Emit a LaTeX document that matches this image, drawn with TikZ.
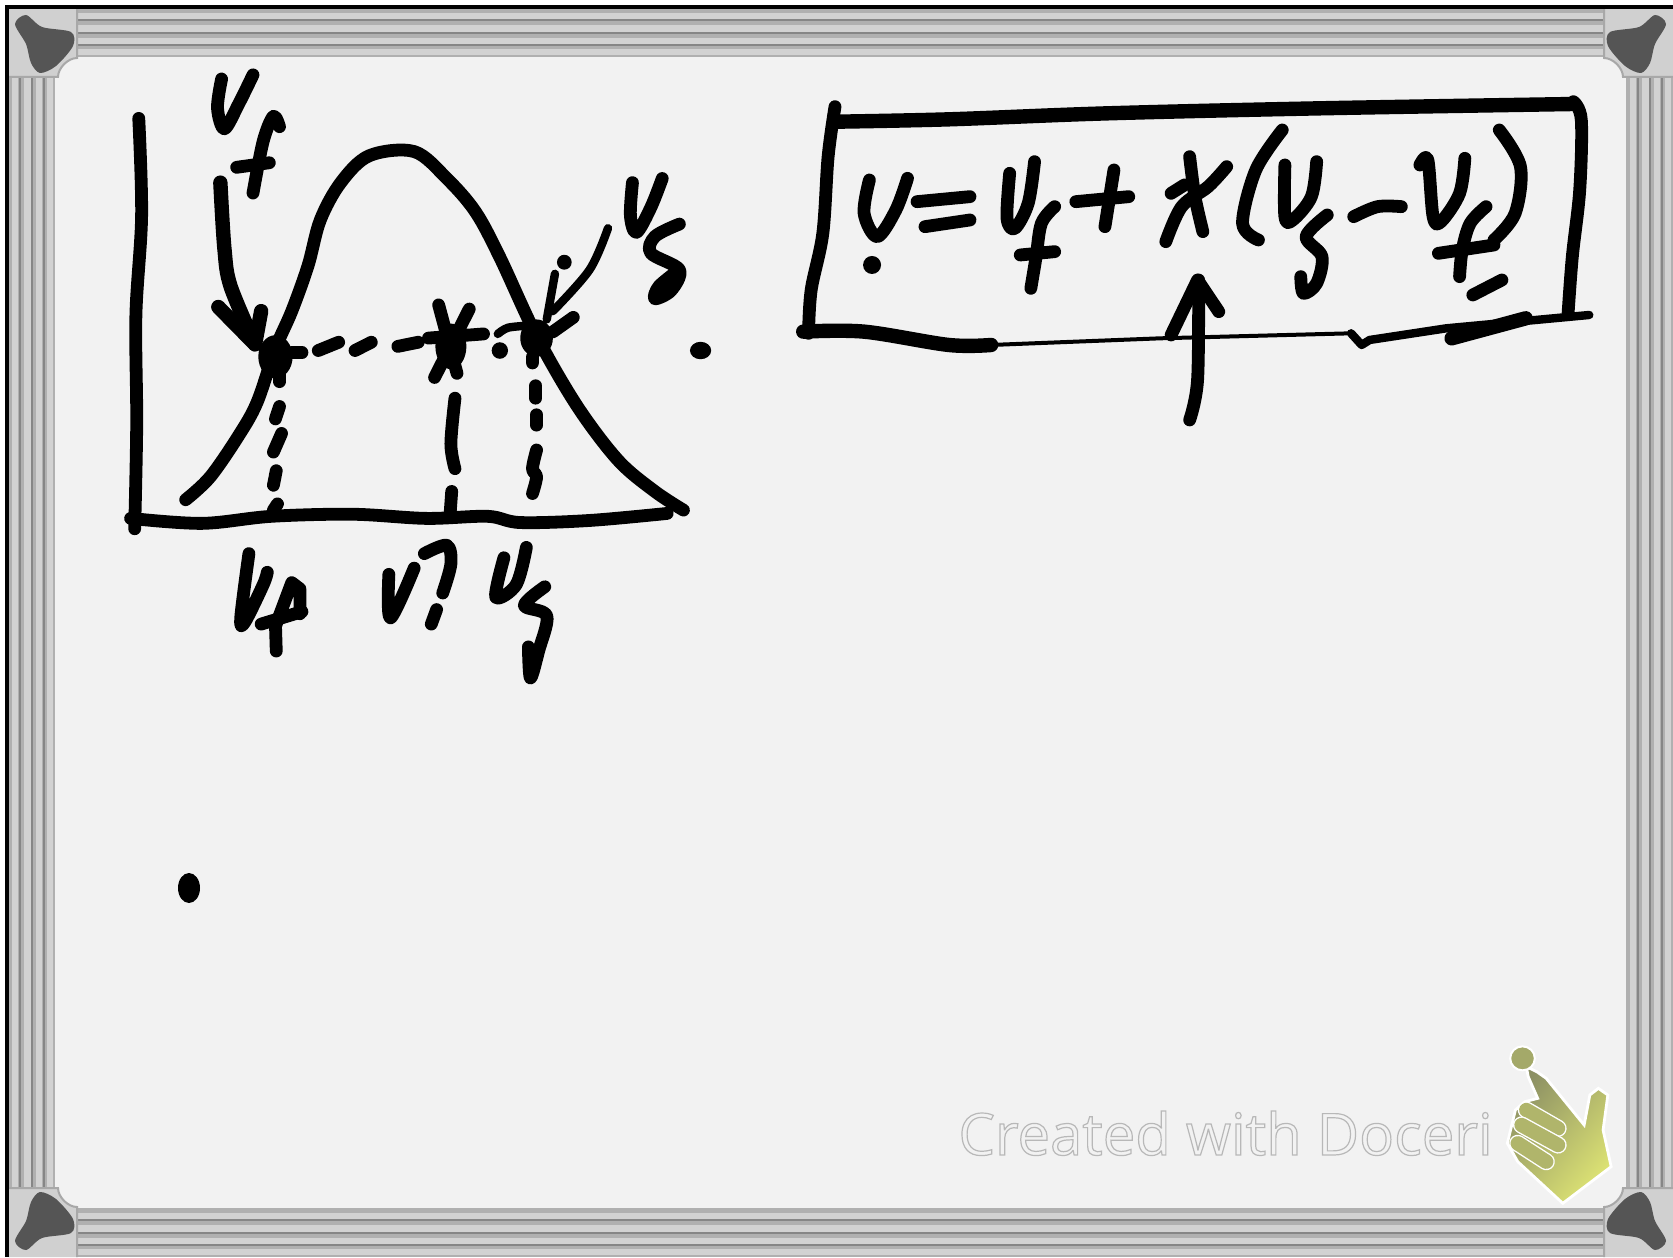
\documentclass[tikz,border=0pt]{standalone}
\usepackage{fontspec}
\setmainfont{Open Sans}
\usetikzlibrary{calc}
\definecolor{board}{HTML}{F2F2F2}
\definecolor{railbase}{HTML}{B0B0B0}
\definecolor{raillight}{HTML}{D2D2D2}
\definecolor{raildark}{HTML}{868686}
\definecolor{cornerfill}{HTML}{D0D0D0}
\definecolor{cornerline}{HTML}{A8A8A8}
\definecolor{blob}{HTML}{555555}
\definecolor{handdark}{HTML}{8C9064}
\definecolor{handlight}{HTML}{DDE374}
\tikzset{
  ink/.style={line width=6.4pt,line cap=round,line join=round,black},
  inkthin/.style={line width=4.2pt,line cap=round,line join=round,black},
  inkhair/.style={line width=2pt,line cap=round,line join=round,black},
  inkbold/.style={line width=7.2pt,line cap=round,line join=round,black},
  zoomA/.style={shift={(100,50)},xscale=0.408,yscale=0.4145},
  zoomB/.style={shift={(790,90)},xscale=0.5293,yscale=0.3333},
  zoomD/.style={shift={(930,1030)},xscale=0.474,yscale=0.3333},
}
\newcommand{\inkplot}[2]{\draw[#1] plot[smooth,tension=0.55] coordinates {#2};}
\newcommand{\railH}[3]{% x0 x1 ytop
  \fill[railbase] (#1,#3) rectangle (#2,#3+49);
  \foreach \yy/\hh in {5/6,17/7,30/7,41/6}{\fill[raillight] (#1,#3+\yy) rectangle (#2,#3+\yy+\hh);}
  \foreach \yy in {12,25,37}{\draw[raildark,line width=1.4pt] (#1,#3+\yy) -- (#2,#3+\yy);}
}
\newcommand{\railV}[3]{% y0 y1 xleft
  \fill[railbase] (#3,#1) rectangle (#3+47,#2);
  \foreach \yy/\hh in {4/6,16/7,28/6,39/6}{\fill[raillight] (#3+\yy,#1) rectangle (#3+\yy+\hh,#2);}
  \foreach \yy in {12,24,36}{\draw[raildark,line width=1.4pt] (#3+\yy,#1) -- (#3+\yy,#2);}
}
\newcommand{\cornerpiece}{%
  \fill[cornerfill] (0,0) -- (69,0) -- (69,50) .. controls (60,50) and (50,60) .. (50,69) -- (0,69) -- cycle;
  \draw[cornerline,line width=1pt] (69,0) -- (69,50) .. controls (60,50) and (50,60) .. (50,69) -- (0,69);
  \fill[blob] plot[smooth cycle,tension=0.5] coordinates {(7,16) (18,7) (34,19) (63,24) (65,38) (48,58) (32,65) (23,55) (18,36)};
}
\begin{document}
\begin{tikzpicture}[x=0.5pt,y=-0.5pt]
\useasboundingbox (0,0) rectangle (1673,1257);
\fill[white] (0,0) rectangle (1673,1257);
\fill[board] (8,8) rectangle (1673,1257);
% rails
\railH{77}{1604}{8}
\railH{77}{1604}{1208}
\railV{77}{1190}{8}
\railV{77}{1190}{1626}
% corners
\begin{scope}[shift={(8,8)}]\cornerpiece\end{scope}
\begin{scope}[shift={(1673,8)},xscale=-1]\cornerpiece\end{scope}
\begin{scope}[shift={(8,1257)},yscale=-1]\cornerpiece\end{scope}
\begin{scope}[shift={(1673,1257)},xscale=-1,yscale=-1]\cornerpiece\end{scope}
\draw[black,line width=1.6pt] (1673,7) -- (7,7) -- (7,1257);

% graph
\begin{scope}[zoomA]
  \inkplot{ink}{(95,165) (102,400) (88,640) (90,900) (85,1155)}
  \inkplot{ink}{(75,1130) (250,1142) (420,1125) (620,1120) (800,1130) (950,1125) (1030,1140) (1200,1135) (1390,1118)}
  \inkplot{ink}{(210,1085) (270,1030) (340,930) (385,850) (430,720) (470,630) (510,520) (540,410) (590,320) (660,255) (770,245) (850,310) (920,390) (980,500) (1070,690) (1170,860) (1270,990) (1360,1065) (1430,1110)}
  % arrow to v_f point
  \inkplot{inkbold}{(295,320) (305,480) (320,570) (380,710)}
  \draw[inkbold] (290,620) -- (380,710) -- (395,630);
  % label v_f, top
  \inkplot{ink}{(298,70) (288,140) (305,190) (340,130) (375,60)}
  \inkplot{ink}{(440,185) (425,160) (400,220) (375,345)}
  \draw[ink] (335,283) -- (415,272);
  % points
  \fill (430,740) circle[x radius=42,y radius=52];
  \draw[ink] (470,730) -- (495,730) (440,760) -- (440,800);
  \draw[ink] (535,725) -- (585,705) (625,725) -- (665,705) (730,715) -- (780,705);
  \draw[ink] (830,615) -- (875,780) (905,625) -- (820,790) (805,695) -- (940,685);
  \fill (860,715) circle[x radius=38,y radius=55];
  \fill (980,725) circle[radius=20];
  \inkplot{inkthin}{(975,685) (1000,670) (1050,665)}
  \fill (1070,695) circle[x radius=40,y radius=45];
  \draw[ink] (1060,740) -- (1060,755) (1110,680) -- (1160,645);
  % arrow to v_s point
  \inkplot{inkthin}{(1245,430) (1200,530) (1110,630)}
  \draw[inkthin] (1115,540) -- (1095,650);
  \fill (1138,512) circle[radius=18];
  % label v_s, right
  \inkplot{ink}{(1305,320) (1300,400) (1315,440) (1350,380) (1378,310)}
  \inkplot{ink}{(1420,420) (1360,450) (1350,490) (1420,530) (1400,580) (1360,600) (1370,570) (1420,530)}
  \fill (1472,725) circle[x radius=26,y radius=21];
  % vertical dashes
  \draw[ink] (440,860) -- (430,890) (445,925) -- (425,970) (432,1015) -- (425,1050) (435,1095) -- (425,1110);
  \inkplot{ink}{(870,840) (860,950) (870,1010)}
  \draw[ink] (862,1065) -- (858,1120);
  \draw[ink] (1068,810) -- (1068,840) (1070,880) -- (1070,905);
  \inkplot{ink}{(1070,965) (1060,1010) (1070,1030) (1060,1070)}
  % labels below axis
  \inkplot{ink}{(365,1215) (345,1370) (355,1380) (400,1290) (410,1260)}
  \draw[ink] (430,1390) -- (470,1285) -- (490,1300) -- (490,1360);
  \draw[ink] (395,1385) -- (495,1355) (430,1385) -- (432,1450);
  \inkplot{ink}{(708,1265) (712,1370) (770,1250)}
  \inkplot{ink}{(795,1215) (850,1195) (860,1240) (840,1310)}
  \draw[ink] (825,1350) -- (812,1385);
  \inkplot{ink}{(990,1225) (970,1320) (1020,1290) (1045,1200)}
  \inkplot{ink}{(1090,1295) (1040,1340) (1095,1365) (1075,1450) (1055,1515) (1050,1440)}
\end{scope}

% boxed formula
\begin{scope}[zoomB]
  \inkplot{inkbold}{(90,95) (300,88) (600,70) (1000,55) (1480,42)}
  \inkplot{ink}{(85,50) (72,200) (62,430) (40,600) (35,730)}
  \inkplot{ink}{(1480,35) (1495,90) (1492,300) (1478,500) (1470,670)}
  \inkplot{inkbold}{(25,725) (140,725) (300,765) (380,765)}
  \draw[inkhair] (380,765) -- (700,745) -- (1060,730);
  \draw[inkthin] (1060,730) -- (1080,765) -- (1095,750) -- (1240,715) -- (1510,675);
  \draw[inkbold] (1250,745) -- (1390,685);
  % v =
  \inkplot{ink}{(150,270) (140,370) (165,440) (200,360) (222,265)}
  \fill (155,525) circle[x radius=17,y radius=27];
  \draw[ink] (240,335) -- (340,320) (255,410) -- (340,390);
  % v_f
  \inkplot{ink}{(415,250) (410,385) (425,415) (450,340) (462,215)}
  \inkplot{ink}{(500,350) (475,400) (465,500) (455,595)}
  \draw[ink] (435,495) -- (500,485);
  % +
  \draw[ink] (540,335) -- (640,320) (612,240) -- (595,410);
  % x
  \inkplot{ink}{(755,200) (765,320) (780,425)}
  \inkplot{ink}{(825,230) (790,290) (740,350) (710,455)}
  \draw[ink] (720,310) -- (745,285);
  % (
  \inkplot{ink}{(930,120) (880,240) (855,400) (885,450)}
  % v_s
  \inkplot{ink}{(935,225) (935,380) (950,390) (985,320) (995,215)}
  \inkplot{ink}{(1015,375) (975,440) (1005,500) (995,580) (970,610) (965,560)}
  % minus
  \inkplot{ink}{(1065,380) (1110,350) (1155,350)}
  % v_f
  \inkplot{ink}{(1190,225) (1205,210) (1215,380) (1230,395) (1265,310) (1275,205)}
  \inkplot{ink}{(1315,350) (1285,400) (1270,480) (1265,560)}
  \draw[ink] (1225,490) -- (1330,465);
  % )
  \inkplot{ink}{(1340,120) (1380,230) (1370,370) (1330,450)}
  \draw[ink] (1290,615) -- (1345,570);
  % arrow
  \inkplot{ink}{(755,990) (770,870) (772,570)}
  \draw[ink] (720,735) -- (770,570) -- (810,665);
\end{scope}

% stray dot
\fill (189,888) circle[x radius=11,y radius=15];

% logo text
\node[anchor=base west,inner sep=0pt,text=board] (logo) at (958,1155)
  {\fontsize{29}{32}\selectfont\special{pdf:code q 0.72 0.72 0.72 RG 0.6 w 2 Tr}Created with Doceri\special{pdf:code Q}};

% hand
\begin{scope}[zoomD]
  \draw[white,line width=1.4pt,left color=handdark,right color=handlight,shading angle=50]
    (1258,110) -- (1280,125) -- (1300,145) -- (1380,285) -- (1392,195) -- (1410,175) -- (1430,195) -- (1420,300) -- (1437,410) -- (1335,520) -- (1240,395) -- (1218,340) -- (1235,240) -- (1255,215) -- (1282,205) -- (1262,140) -- cycle;
  \fill[handdark!70!handlight,draw=white,line width=1pt] (1250,85) circle[x radius=26,y radius=36];
  \foreach \xa/\ya/\xb/\yb in {1258/240/1325/295,1248/285/1325/345,1240/340/1300/395}{
    \draw[white,line width=8.6pt,line cap=round] (\xa,\ya) -- (\xb,\yb);
    \draw[handdark!55!handlight,line width=7.2pt,line cap=round] (\xa,\ya) -- (\xb,\yb);
  }
\end{scope}
\end{tikzpicture}
\end{document}
